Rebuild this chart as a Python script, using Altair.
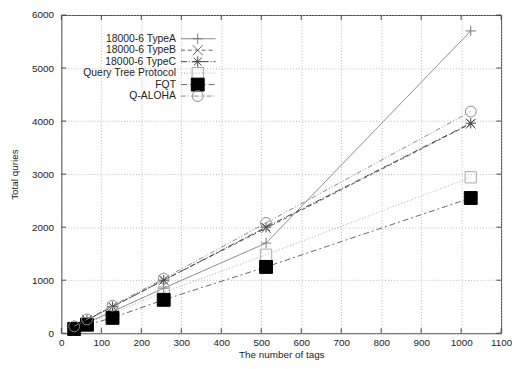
import altair as alt
import pandas as pd

names = ["18000-6 TypeA", "18000-6 TypeB", "18000-6 TypeC", "Query Tree Protocol", "FQT", "Q-ALOHA"]
tags = [32, 64, 128, 256, 512, 1024]
type_a = [100, 200, 410, 850, 1700, 5700]
type_b = [125, 250, 500, 1000, 1980, 3950]
type_c = [125, 250, 500, 1000, 2000, 3960]
query_tree = [95, 190, 380, 770, 1480, 2940]
fqt = [80, 160, 290, 630, 1250, 2550]
q_aloha = [130, 260, 520, 1030, 2080, 4180]
series_values = [type_a, type_b, type_c, query_tree, fqt, q_aloha]

x_ticks = list(range(0, 1101, 100))
y_ticks = list(range(0, 6001, 1000))

FONT = "Liberation Sans"

PLUS = "M-1,0L1,0M0,-1L0,1"
XMARK = "M-1,-1L1,1M-1,1L1,-1"
STAR = "M-1,0L1,0M0,-1L0,1M-0.75,-0.75L0.75,0.75M-0.75,0.75L0.75,-0.75"

styles = [
    dict(color="#7a7a7a", dash=[1, 0], shape=PLUS, filled=False, size=110),
    dict(color="#666666", dash=[4, 3], shape=XMARK, filled=False, size=100),
    dict(color="#444444", dash=[6, 2, 1, 2], shape=STAR, filled=False, size=110),
    dict(color="#aaaaaa", dash=[1, 2], shape="square", filled=False, size=130),
    dict(color="#666666", dash=[6, 3, 2, 3], shape="square", filled=True, size=170),
    dict(color="#888888", dash=[5, 2, 1, 2, 1, 2], shape="circle", filled=False, size=120),
]

xs = alt.Scale(domain=[0, 1100], nice=False)
ys = alt.Scale(domain=[0, 6000], nice=False)

main_layers = []
legend_layers = []
row_scale = alt.Scale(domain=[0, 5], range=[24, 82])


def point_mark(chart, st):
    col = "#000000" if st["filled"] else st["color"]
    return chart.mark_point(shape=st["shape"], filled=st["filled"], size=st["size"],
                            stroke=col, color=col, strokeWidth=1, opacity=1)


for i, (name, vals, st) in enumerate(zip(names, series_values, styles)):
    df = pd.DataFrame({"tags": tags, "value": vals, "series": name})
    base = alt.Chart(df)
    line = base.mark_line(color=st["color"], strokeDash=st["dash"], strokeWidth=1).encode(
        x=alt.X("tags:Q", scale=xs, title="The number of tags",
                axis=alt.Axis(values=x_ticks, grid=True, format="d", labelFlush=False)),
        y=alt.Y("value:Q", scale=ys, title="Total quries",
                axis=alt.Axis(values=y_ticks, grid=True, format="d", labelFlush=False)),
    )
    pts = point_mark(base, st).encode(
        x=alt.X("tags:Q", scale=xs), y=alt.Y("value:Q", scale=ys))
    main_layers += [line, pts]

    ldf = pd.DataFrame({"row": [i], "series": [name]})
    lb = alt.Chart(ldf)
    lrule = lb.mark_rule(color=st["color"], strokeDash=st["dash"], strokeWidth=1).encode(
        x=alt.value(121), x2=alt.value(156),
        y=alt.Y("row:Q", scale=row_scale, axis=None))
    lpt = point_mark(lb, st).encode(
        x=alt.value(138), y=alt.Y("row:Q", scale=row_scale, axis=None))
    ltxt = lb.mark_text(align="right", baseline="middle", font=FONT, fontSize=10.5,
                        color="#222222").encode(
        x=alt.value(116), y=alt.Y("row:Q", scale=row_scale, axis=None),
        text="series:N")
    legend_layers += [lrule, lpt, ltxt]

# inward tick marks (gnuplot style, mirrored), expressed in data units
xt = alt.Chart(pd.DataFrame({"v": x_ticks}))
yt = alt.Chart(pd.DataFrame({"v": y_ticks}))
tick_layers = [
    xt.mark_rule(color="#444", strokeWidth=1).encode(x=alt.X("v:Q", scale=xs), y=alt.datum(0, scale=ys), y2=alt.datum(95)),
    xt.mark_rule(color="#444", strokeWidth=1).encode(x=alt.X("v:Q", scale=xs), y=alt.datum(6000, scale=ys), y2=alt.datum(5905)),
    yt.mark_rule(color="#444", strokeWidth=1).encode(y=alt.Y("v:Q", scale=ys), x=alt.datum(0, scale=xs), x2=alt.datum(12)),
    yt.mark_rule(color="#444", strokeWidth=1).encode(y=alt.Y("v:Q", scale=ys), x=alt.datum(1100, scale=xs), x2=alt.datum(1088)),
]

main = alt.layer(*(main_layers + tick_layers))
legend = alt.layer(*legend_layers)

chart = alt.layer(main, legend).resolve_scale(y="independent").properties(
    width=510, height=354,
    autosize=alt.AutoSizeParams(type="fit", contains="padding"),
    padding={"left": 1, "top": 0, "right": 0, "bottom": 0},
).configure_view(stroke="#444444", strokeWidth=1).configure_axis(
    domain=False, ticks=False, grid=True, gridColor="#aaaaaa", gridDash=[1, 2],
    gridWidth=0.8, labelFont=FONT, labelFontSize=10, labelColor="#222222",
    titleFont=FONT, titleFontSize=10, titleColor="#222222", titleFontWeight="normal",
).configure_axisX(labelPadding=4, titlePadding=3).configure_axisY(labelPadding=8, titlePadding=12)

chart.save("out.html", embed_options={"renderer": "svg", "actions": False})
